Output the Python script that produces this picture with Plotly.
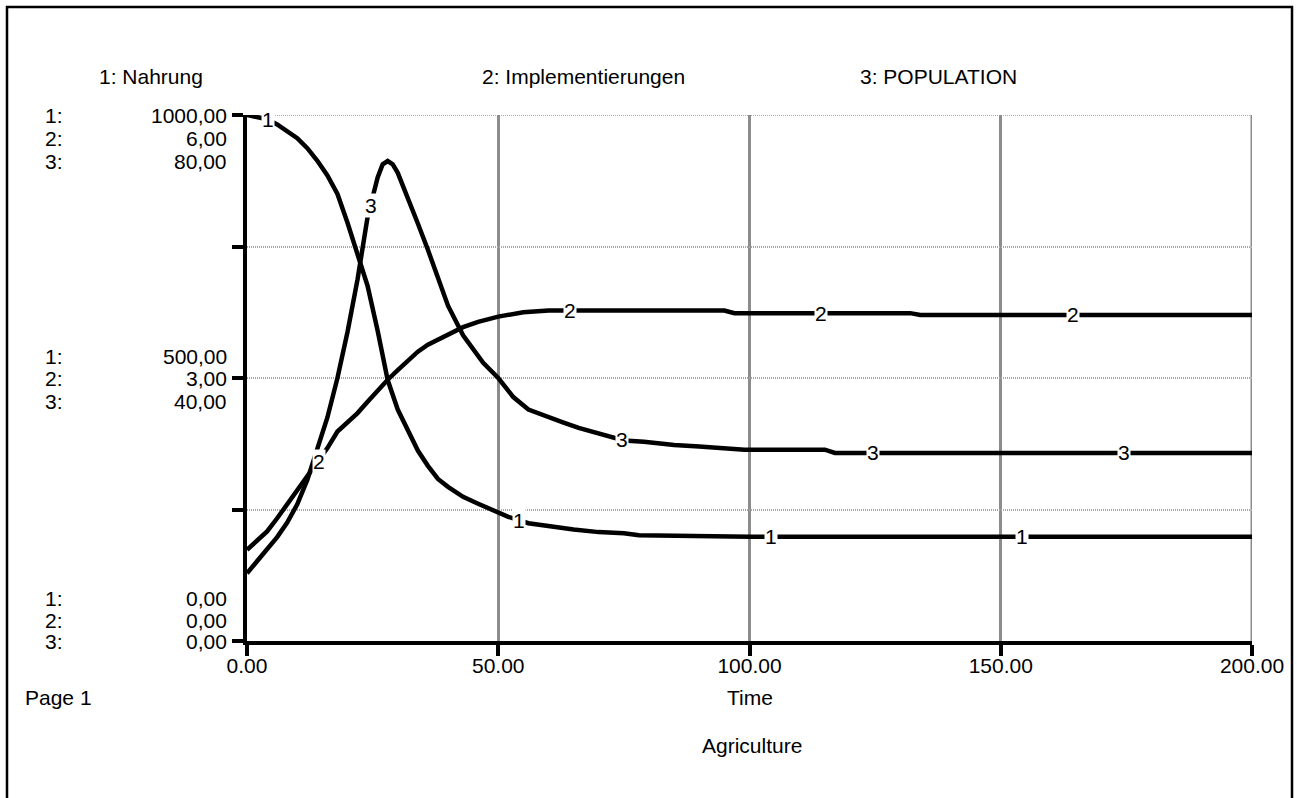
import numpy as np
import plotly.graph_objects as go

# ---------------- data ----------------
time_1 = [0, 2, 4, 6, 8, 10, 12, 14, 16, 18, 20, 22, 24, 26, 28, 30, 32, 34, 36, 38,
          40, 43, 46, 49, 52, 56, 60, 65, 70, 75, 78, 90, 96, 100, 200]
nahrung = [1000, 997, 992, 982, 970, 956, 937, 913, 885, 850, 795, 733, 675, 590, 496,
           440, 400, 362, 333, 308, 293, 274, 261, 249, 236, 224, 218, 212, 207, 205,
           201, 200, 198, 198, 198]

time_2 = [0, 2, 4, 6, 8, 10, 12, 14, 16, 18, 20, 22, 24, 26, 28, 30, 32, 34, 36, 40,
          43, 46, 50, 55, 60, 65, 95, 97, 132, 134, 200]
implementierungen = [1.04, 1.15, 1.25, 1.40, 1.56, 1.70, 1.86, 2.02, 2.20, 2.39, 2.50,
                     2.60, 2.73, 2.86, 2.98, 3.09, 3.19, 3.30, 3.38, 3.50, 3.58, 3.64,
                     3.70, 3.75, 3.77, 3.77, 3.77, 3.74, 3.74, 3.72, 3.72]

time_3 = [0, 2, 4, 6, 8, 10, 12, 14, 16, 18, 20, 22, 24, 26, 27, 28, 29, 30, 32, 34, 36,
          38, 40, 43, 45, 47, 50, 53, 56, 60, 63, 66, 70, 75, 79, 85, 90, 99, 115, 117, 200]
population = [10.3, 12.2, 14.0, 15.8, 18.0, 20.8, 24.5, 29.0, 34.0, 40.0, 47.0, 55.0,
              64.5, 70.5, 72.5, 73.0, 72.5, 71.2, 67.5, 63.5, 59.5, 55.0, 51.0, 46.5,
              44.3, 42.3, 40.0, 37.1, 35.2, 34.0, 33.2, 32.4, 31.5, 30.5, 30.3, 29.8,
              29.6, 29.1, 29.1, 28.6, 28.6]

series_names = ["Nahrung", "Implementierungen", "POPULATION"]
scale_max = [1000, 6, 80]
x_ticks = [0, 50, 100, 150, 200]
y_ticks = [0, 250, 500, 750, 1000]
page_label = "Page 1"
x_title = "Time"
model_title = "Agriculture"

# ---------------- layout geometry ----------------
FONT = "Liberation Sans, Arial, Helvetica, sans-serif"
FS = 21
W, H = 1297, 798
L, R, T, B = 247, 1252, 115, 641
HGRID = "#a8a8a8"
VGRID = "#8c8c8c"


def pxx(px):
    return (px - L) / (R - L)


def pxy(py):
    return (B - py) / (B - T)


fig = go.Figure()
line = dict(color="black", width=4.5)
series = [(time_1, nahrung, "y"), (time_2, implementierungen, "y2"), (time_3, population, "y3")]
for (tx, vy, ax), name in zip(series, series_names):
    fig.add_trace(go.Scatter(x=tx, y=vy, mode="lines", line=line, yaxis=ax, name=name,
                             showlegend=False, hoverinfo="skip"))

ann = []
# numbered labels on the curves
label_start = [4.2, 14.3, 24.6]
for i, ((tx, vy, ax), t0) in enumerate(zip(series, label_start)):
    for k in range(4):
        t = t0 + 50 * k
        ann.append(dict(x=t, y=float(np.interp(t, tx, vy)), xref="x", yref=ax,
                        text=str(i + 1), showarrow=False, bgcolor="white",
                        font=dict(family=FONT, size=FS, color="black"),
                        borderpad=0, xanchor="center", yanchor="middle"))

# left scale labels
groups = [(1000, [0, -23, -46]), (500, [22, 0, -23]), (0, [43, 21, 0])]
for frac_v, shifts in groups:
    for i in range(3):
        val = scale_max[i] * frac_v / 1000
        txt = f"{val:.2f}".replace(".", ",")
        ann.append(dict(x=pxx(229), y=frac_v, xref="paper", yref="y", yshift=shifts[i],
                        text=txt, showarrow=False, xanchor="right", yanchor="middle",
                        font=dict(family=FONT, size=FS, color="black")))
        ann.append(dict(x=pxx(43), y=frac_v, xref="paper", yref="y", yshift=shifts[i],
                        text=f"{i + 1}:", showarrow=False, xanchor="left", yanchor="middle",
                        font=dict(family=FONT, size=FS, color="black")))

# headers
header_x = [97, 480, 858]
for i, (name, hx) in enumerate(zip(series_names, header_x)):
    ann.append(dict(x=pxx(hx), y=pxy(77), xref="paper", yref="paper",
                    text=f"{i + 1}: {name}", showarrow=False, xanchor="left", yanchor="middle",
                    font=dict(family=FONT, size=FS, color="black")))

ann.append(dict(x=pxx(23), y=pxy(697), xref="paper", yref="paper", text=page_label,
                showarrow=False, xanchor="left", yanchor="middle",
                font=dict(family=FONT, size=FS, color="black")))
ann.append(dict(x=pxx(750), y=pxy(697), xref="paper", yref="paper", text=x_title,
                showarrow=False, xanchor="center", yanchor="middle",
                font=dict(family=FONT, size=FS, color="black")))
ann.append(dict(x=pxx(752), y=pxy(745), xref="paper", yref="paper", text=model_title,
                showarrow=False, xanchor="center", yanchor="middle",
                font=dict(family=FONT, size=FS, color="black")))

shapes = [
    dict(type="rect", xref="paper", yref="paper", x0=pxx(7), x1=pxx(1292),
         y0=pxy(815), y1=pxy(7), line=dict(color="black", width=2.5),
         fillcolor="rgba(0,0,0,0)", layer="above"),
    # edge grid lines that plotly omits at the range ends
    dict(type="line", xref="x", yref="y", x0=0, x1=x_ticks[-1], y0=y_ticks[-1], y1=y_ticks[-1],
         line=dict(color=HGRID, width=2, dash="1px,1px"), layer="below"),
    dict(type="line", xref="x", yref="y", x0=x_ticks[-1], x1=x_ticks[-1], y0=0, y1=y_ticks[-1],
         line=dict(color=VGRID, width=3), layer="below"),
]

fig.update_layout(
    width=W, height=H, autosize=False,
    margin=dict(l=L, r=W - R, t=T, b=H - B, pad=0),
    paper_bgcolor="white", plot_bgcolor="white",
    font=dict(family=FONT, size=FS, color="black"),
    xaxis=dict(range=[0, 200], tickvals=x_ticks, ticktext=[f"{v:.2f}" for v in x_ticks],
               showgrid=True, gridcolor=VGRID, gridwidth=3,
               showline=True, linecolor="black", linewidth=4,
               ticks="outside", ticklen=11, tickwidth=4, tickcolor="black",
               ticklabelstandoff=-8,
               tickfont=dict(family=FONT, size=FS, color="black"), zeroline=False,
               fixedrange=True),
    yaxis=dict(range=[0, 1000], tickvals=y_ticks, showticklabels=False,
               showgrid=True, gridcolor=HGRID, gridwidth=2, griddash="1px,1px",
               showline=True, linecolor="black", linewidth=4,
               ticks="outside", ticklen=11, tickwidth=4, tickcolor="black",
               zeroline=False, fixedrange=True),
    yaxis2=dict(range=[0, 6], overlaying="y", visible=False, fixedrange=True),
    yaxis3=dict(range=[0, 80], overlaying="y", visible=False, fixedrange=True),
    annotations=ann, shapes=shapes,
)

fig.write_html("out.html", config={"displayModeBar": False},
               post_script="document.body.style.margin='0';")
